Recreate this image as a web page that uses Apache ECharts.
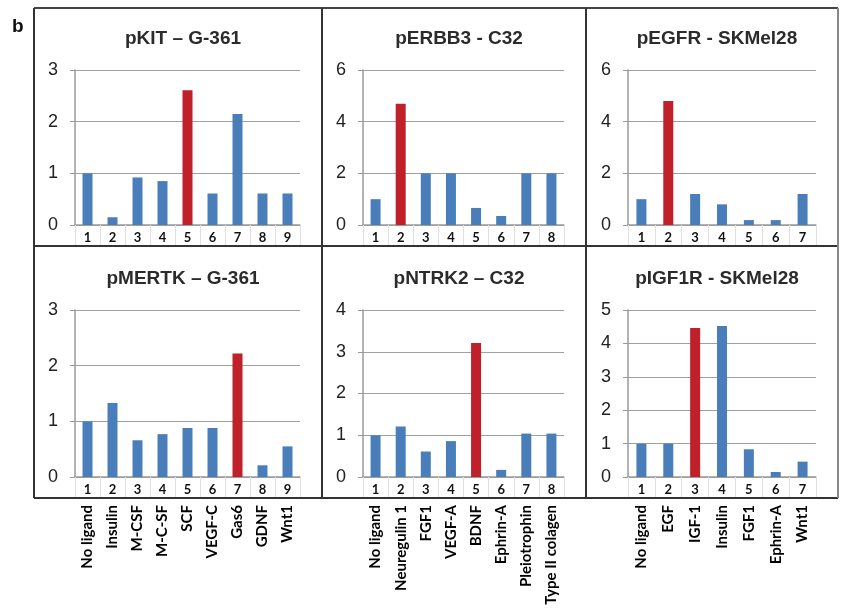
<!DOCTYPE html>
<html><head><meta charset="utf-8">
<script src="https://cdn.jsdelivr.net/npm/echarts@6/dist/echarts.min.js"></script>
<style>html,body{margin:0;padding:0;background:#fff}#c{width:843px;height:612px}</style>
</head><body><div id="c"></div>
<script>
const titles = ['pKIT – G-361','pERBB3 - C32','pEGFR - SKMel28','pMERTK – G-361','pNTRK2 – C32','pIGF1R - SKMel28'];
const numCats1 = ['1','2','3','4','5','6','7','8','9'];
const numCats2 = ['1','2','3','4','5','6','7','8'];
const numCats3 = ['1','2','3','4','5','6','7'];
const names1 = ['No ligand','Insulin','M-CSF','M-C-SF','SCF','VEGF-C','Gas6','GDNF','Wnt1'];
const names2 = ['No ligand','Neuregulin 1','FGF1','VEGF-A','BDNF','Ephrin-A','Pleiotrophin','Type II colagen'];
const names3 = ['No ligand','EGF','IGF-1','Insulin','FGF1','Ephrin-A','Wnt1'];
const vKIT   = [1.0,0.15,0.92,0.85,2.61,0.61,2.15,0.61,0.61];
const vERBB3 = [1.0,4.69,2.0,2.0,0.66,0.35,2.0,2.0];
const vEGFR  = [1.0,4.8,1.2,0.8,0.19,0.19,1.2];
const vMERTK = [1.0,1.33,0.66,0.77,0.88,0.88,2.22,0.21,0.55];
const vNTRK2 = [1.0,1.21,0.61,0.86,3.21,0.17,1.04,1.04];
const vIGF1R = [1.0,1.0,4.46,4.52,0.83,0.15,0.46];
const highlight = [4,1,1,6,4,2];
const yMax = [3,6,6,3,4,5];
const yInterval = [1,2,2,1,1,1];

const values = [vKIT,vERBB3,vEGFR,vMERTK,vNTRK2,vIGF1R];
const cats = [numCats1,numCats2,numCats3,numCats1,numCats2,numCats3];
const names = [names1,names2,names3];

const BLUE = '#4a7ebb', RED = '#c0202a';
const grids = [
  {left:75, width:225, top:70, height:155},
  {left:363, width:201, top:70, height:155},
  {left:628, width:188, top:70, height:155},
  {left:75, width:225, top:310, height:167},
  {left:363, width:201, top:310, height:167},
  {left:628, width:188, top:310, height:167}
];
const titleX = [178,454,712,178,454,712];
const titleY = [24,24,24,264,264,264];

const chart = echarts.init(document.getElementById('c'), null, {renderer:'canvas'});
const xAxis = [], yAxis = [], series = [], title = [];
for (let i=0;i<6;i++){
  title.push({text:titles[i], left:titleX[i], top:titleY[i], textAlign:'center',
    textStyle:{fontFamily:'Liberation Sans, Arial', fontWeight:'bold', fontSize:19, color:'#2b2b2b'}});
  xAxis.push({type:'category', gridIndex:i, data:cats[i],
    axisLine:{lineStyle:{color:'#9a9a9a', width:1.5}},
    axisTick:{show:true, length:20, lineStyle:{color:'#e0e0e0'}},
    axisLabel:{margin:6, fontFamily:'Lato', fontWeight:'bold', fontSize:13, color:'#111'}});
  yAxis.push({type:'value', gridIndex:i, min:0, max:yMax[i], interval:yInterval[i],
    axisLine:{show:true, lineStyle:{color:'#9a9a9a', width:1.5}},
    axisTick:{show:true, length:5, lineStyle:{color:'#9a9a9a'}},
    splitLine:{lineStyle:{color:'#a0a0a0', width:1}},
    axisLabel:{margin:17, fontFamily:'Liberation Sans, Arial', fontSize:18, color:'#222'}});
  series.push({type:'bar', xAxisIndex:i, yAxisIndex:i, barWidth:10,
    data: values[i].map((v,k)=>({value:v, itemStyle:{color: k===highlight[i]?RED:BLUE}})),
    silent:true, animation:false});
}
for (let j=0;j<3;j++){
  xAxis.push({type:'category', gridIndex:3+j, data:names[j], position:'bottom',
    axisLine:{show:false}, axisTick:{show:false},
    axisLabel:{rotate:90, margin:28, interval:0, fontFamily:'Lato', fontWeight:'bold', fontSize:15, color:'#000'}});
}
const L = (x1,y1,x2,y2,c)=>({type:'line', shape:{x1,y1,x2,y2}, style:{stroke:c||'#333', lineWidth:2}, silent:true});
const graphic = [
  L(34,8,838,8,'#444'), L(34,246,838,246), L(34,498,838,498),
  L(34,8,34,498), L(322,8,322,498), L(586,8,586,498), L(838,8,838,498,'#888'),
  {type:'text', left:12, top:17, style:{text:'b', font:'bold 19px Liberation Sans, Arial', fill:'#111'}}
];
chart.setOption({animation:false, title, grid:grids, xAxis, yAxis, series, graphic});
</script>
</body></html>
